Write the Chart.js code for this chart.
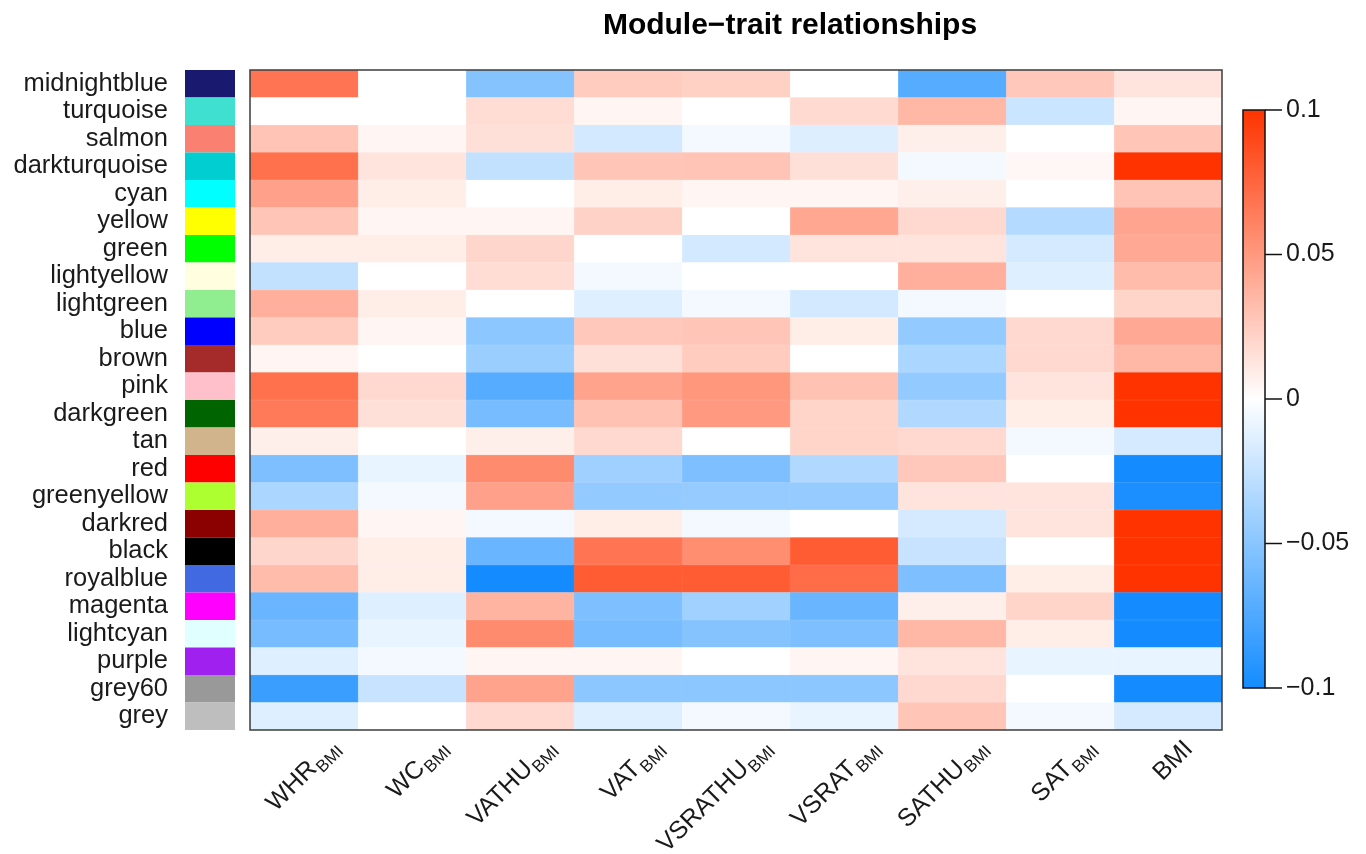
<!DOCTYPE html>
<html>
<head>
<meta charset="utf-8">
<title>Module-trait relationships</title>
<script src="https://cdn.jsdelivr.net/npm/chart.js@4.4.1/dist/chart.umd.min.js"></script>
<style>
  html, body { margin: 0; padding: 0; background: #fff; }
  #wrap { width: 1366px; height: 854px; position: relative; }
</style>
</head>
<body>
<div id="wrap"><canvas id="heatmap"></canvas></div>
<script>
// Módulos (filas del heatmap)
const modules = ['midnightblue', 'turquoise', 'salmon', 'darkturquoise', 'cyan', 'yellow',
  'green', 'lightyellow', 'lightgreen', 'blue', 'brown', 'pink', 'darkgreen', 'tan', 'red',
  'greenyellow', 'darkred', 'black', 'royalblue', 'magenta', 'lightcyan', 'purple', 'grey60', 'grey'];

// Colores de R para cada módulo (no siempre igual que CSS)
const swatchColors = ['#191970', '#40E0D0', '#FA8072', '#00CED1', '#00FFFF', '#FFFF00',
  '#00FF00', '#FFFFE0', '#90EE90', '#0000FF', '#A52A2A', '#FFC0CB', '#006400', '#D2B48C', '#FF0000',
  '#ADFF2F', '#8B0000', '#000000', '#4169E1', '#FF00FF', '#E0FFFF', '#A020F0', '#999999', '#BEBEBE'];

// Rasgos (columnas): texto principal + subíndice
const traitMain = ['WHR', 'WC', 'VATHU', 'VAT', 'VSRATHU', 'VSRAT', 'SATHU', 'SAT', 'BMI'];
const traitSub = ['BMI', 'BMI', 'BMI', 'BMI', 'BMI', 'BMI', 'BMI', 'BMI', ''];

// Correlaciones por rasgo, en el orden de modules
const whrBMI = [0.068, 0, 0.029, 0.07, 0.046, 0.028, 0.009, -0.026, 0.039, 0.025, 0.005, 0.07,
  0.065, 0.008, -0.055, -0.036, 0.039, 0.02, 0.033, -0.064, -0.058, -0.014, -0.084, -0.014];
const wcBMI = [0, 0, 0.005, 0.013, 0.009, 0.005, 0.009, 0, 0.009, 0.005, 0, 0.019,
  0.015, 0, -0.01, -0.005, 0.005, 0.009, 0.009, -0.014, -0.01, -0.005, -0.024, 0];
const vathuBMI = [-0.052, 0.017, 0.015, -0.026, 0, 0.005, 0.02, 0.017, 0, -0.049, -0.043, -0.072,
  -0.058, 0.008, 0.057, 0.046, -0.005, -0.064, -0.1, 0.037, 0.057, 0.005, 0.045, 0.019];
const vatBMI = [0.025, 0.005, -0.019, 0.028, 0.009, 0.022, 0, -0.005, -0.014, 0.027, 0.015, 0.045,
  0.03, 0.019, -0.041, -0.046, 0.009, 0.068, 0.08, -0.055, -0.058, 0.005, -0.049, -0.014];
const vsrathuBMI = [0.023, 0, -0.005, 0.029, 0.005, 0, -0.019, 0, -0.005, 0.028, 0.025, 0.051,
  0.05, 0, -0.055, -0.045, -0.005, 0.056, 0.08, -0.04, -0.052, 0, -0.049, -0.005];
const vsratBMI = [0, 0.018, -0.015, 0.015, 0.005, 0.043, 0.013, 0, -0.019, 0.009, 0, 0.03,
  0.021, 0.021, -0.033, -0.045, 0, 0.08, 0.072, -0.064, -0.055, 0.005, -0.049, -0.01];
const sathuBMI = [-0.072, 0.035, 0.008, -0.005, 0.008, 0.019, 0.013, 0.039, -0.005, -0.046, -0.036, -0.046,
  -0.033, 0.019, 0.027, 0.013, -0.018, -0.024, -0.055, 0.008, 0.035, 0.013, 0.019, 0.028];
const satBMI = [0.027, -0.023, 0, 0.004, 0, -0.032, -0.018, -0.014, 0, 0.019, 0.019, 0.013,
  0.009, -0.005, 0, 0.013, 0.013, 0, 0.009, 0.021, 0.009, -0.01, 0, -0.005];
const bmi = [0.013, 0.005, 0.028, 0.1, 0.029, 0.044, 0.042, 0.033, 0.021, 0.042, 0.035, 0.1,
  0.1, -0.018, -0.1, -0.097, 0.1, 0.1, 0.1, -0.1, -0.1, -0.01, -0.1, -0.018];

// Marcas de la barra de color
const colorTicks = [0.1, 0.05, 0, -0.05, -0.1];

const columns = [whrBMI, wcBMI, vathuBMI, vatBMI, vsrathuBMI, vsratBMI, sathuBMI, satBMI, bmi];
const LIMIT = 0.1;
const FONT = "'Liberation Sans', Arial, Helvetica, sans-serif";

// Escala azul - blanco - rojo
function colorFor(v) {
  const t = Math.min(Math.abs(v) / LIMIT, 1);
  let r, g, b;
  if (v >= 0) {
    r = 255; g = 255 - 204 * t; b = 255 - 255 * t;
  } else {
    r = 255 - 235 * t; g = 255 - 115 * t; b = 255;
  }
  return `rgb(${Math.round(r)}, ${Math.round(g)}, ${Math.round(b)})`;
}

// Un dataset por columna: barras flotantes [j, j+1] en el eje x
const datasets = columns.map((vals, j) => ({
  label: traitMain[j] + traitSub[j],
  data: modules.map(() => [j, j + 1]),
  backgroundColor: vals.map(colorFor),
  borderColor: vals.map(colorFor),
  borderWidth: 0.5,
  borderSkipped: false,
  barPercentage: 1,
  categoryPercentage: 1,
  grouped: false
}));

// Dibuja marco, muestras de color, etiquetas x, título y barra de color
const heatmapExtras = {
  id: 'heatmapExtras',
  afterDatasetsDraw(chart) {
    const { ctx, chartArea: a, scales: { x, y } } = chart;
    ctx.save();

    // marco del heatmap
    ctx.strokeStyle = '#3c3c3c';
    ctx.lineWidth = 1.5;
    ctx.strokeRect(a.left, a.top, a.right - a.left, a.bottom - a.top);

    // muestras de color de los módulos
    const rowH = Math.abs(y.getPixelForValue(1) - y.getPixelForValue(0));
    modules.forEach((m, i) => {
      const cy = y.getPixelForValue(i);
      ctx.fillStyle = swatchColors[i];
      ctx.fillRect(a.left - 65, cy - rowH / 2, 50, rowH);
    });

    // etiquetas del eje x, giradas 45° con subíndice
    ctx.fillStyle = '#1a1a1a';
    ctx.textBaseline = 'alphabetic';
    ctx.textAlign = 'right';
    traitMain.forEach((name, j) => {
      const cx = x.getPixelForValue(j + 0.5);
      const hasSub = traitSub[j] !== '';
      ctx.save();
      ctx.translate(cx + (hasSub ? 36 : 26), a.bottom + (hasSub ? 18 : 20));
      ctx.rotate(-Math.PI / 4);
      ctx.font = `17px ${FONT}`;
      const subW = hasSub ? ctx.measureText(traitSub[j]).width + 1 : 0;
      if (hasSub) ctx.fillText(traitSub[j], 0, 6);
      ctx.font = `25px ${FONT}`;
      ctx.fillText(name, -subW, 0);
      ctx.restore();
    });

    // título
    ctx.fillStyle = '#000';
    ctx.textAlign = 'center';
    ctx.textBaseline = 'alphabetic';
    ctx.font = `bold 30px ${FONT}`;
    ctx.fillText('Module\u2212trait relationships', 790, 34);

    // barra de color
    const cbL = 1243, cbR = 1265, cbT = 110, cbB = 688;
    const toY = v => cbT + (LIMIT - v) / (2 * LIMIT) * (cbB - cbT);
    const grad = ctx.createLinearGradient(0, cbT, 0, cbB);
    grad.addColorStop(0, colorFor(LIMIT));
    grad.addColorStop(0.5, colorFor(0));
    grad.addColorStop(1, colorFor(-LIMIT));
    ctx.fillStyle = grad;
    ctx.fillRect(cbL, cbT, cbR - cbL, cbB - cbT);
    ctx.strokeStyle = '#111';
    ctx.lineWidth = 1.5;
    ctx.strokeRect(cbL, cbT, cbR - cbL, cbB - cbT);
    ctx.fillStyle = '#1a1a1a';
    ctx.textAlign = 'left';
    ctx.textBaseline = 'middle';
    ctx.font = `25px ${FONT}`;
    colorTicks.forEach(v => {
      const ty = toY(v);
      ctx.beginPath();
      ctx.moveTo(cbR, ty);
      ctx.lineTo(cbR + 17, ty);
      ctx.stroke();
      const txt = v === 0 ? '0' : (v < 0 ? '\u2212' : '') + String(Math.abs(v));
      ctx.fillText(txt, cbR + 21, ty);
    });

    ctx.restore();
  }
};

new Chart(document.getElementById('heatmap'), {
  type: 'bar',
  data: { labels: modules, datasets: datasets },
  options: {
    indexAxis: 'y',
    responsive: true,
    maintainAspectRatio: false,
    animation: false,
    layout: { padding: { top: 70, right: 144, bottom: 124, left: 10 } },
    plugins: {
      legend: { display: false },
      tooltip: { enabled: false },
      title: { display: false }
    },
    scales: {
      x: {
        type: 'linear',
        min: 0,
        max: traitMain.length,
        display: false
      },
      y: {
        type: 'category',
        offset: true,
        grid: { display: false, drawTicks: false },
        border: { display: false },
        ticks: {
          color: '#1a1a1a',
          font: { family: FONT, size: 25.5 },
          padding: 82,
          autoSkip: false
        },
        afterFit(scale) {
          scale.width = 240;
          scale.paddingTop = 0;
          scale.paddingBottom = 0;
        }
      }
    }
  },
  plugins: [heatmapExtras]
});
</script>
</body>
</html>
